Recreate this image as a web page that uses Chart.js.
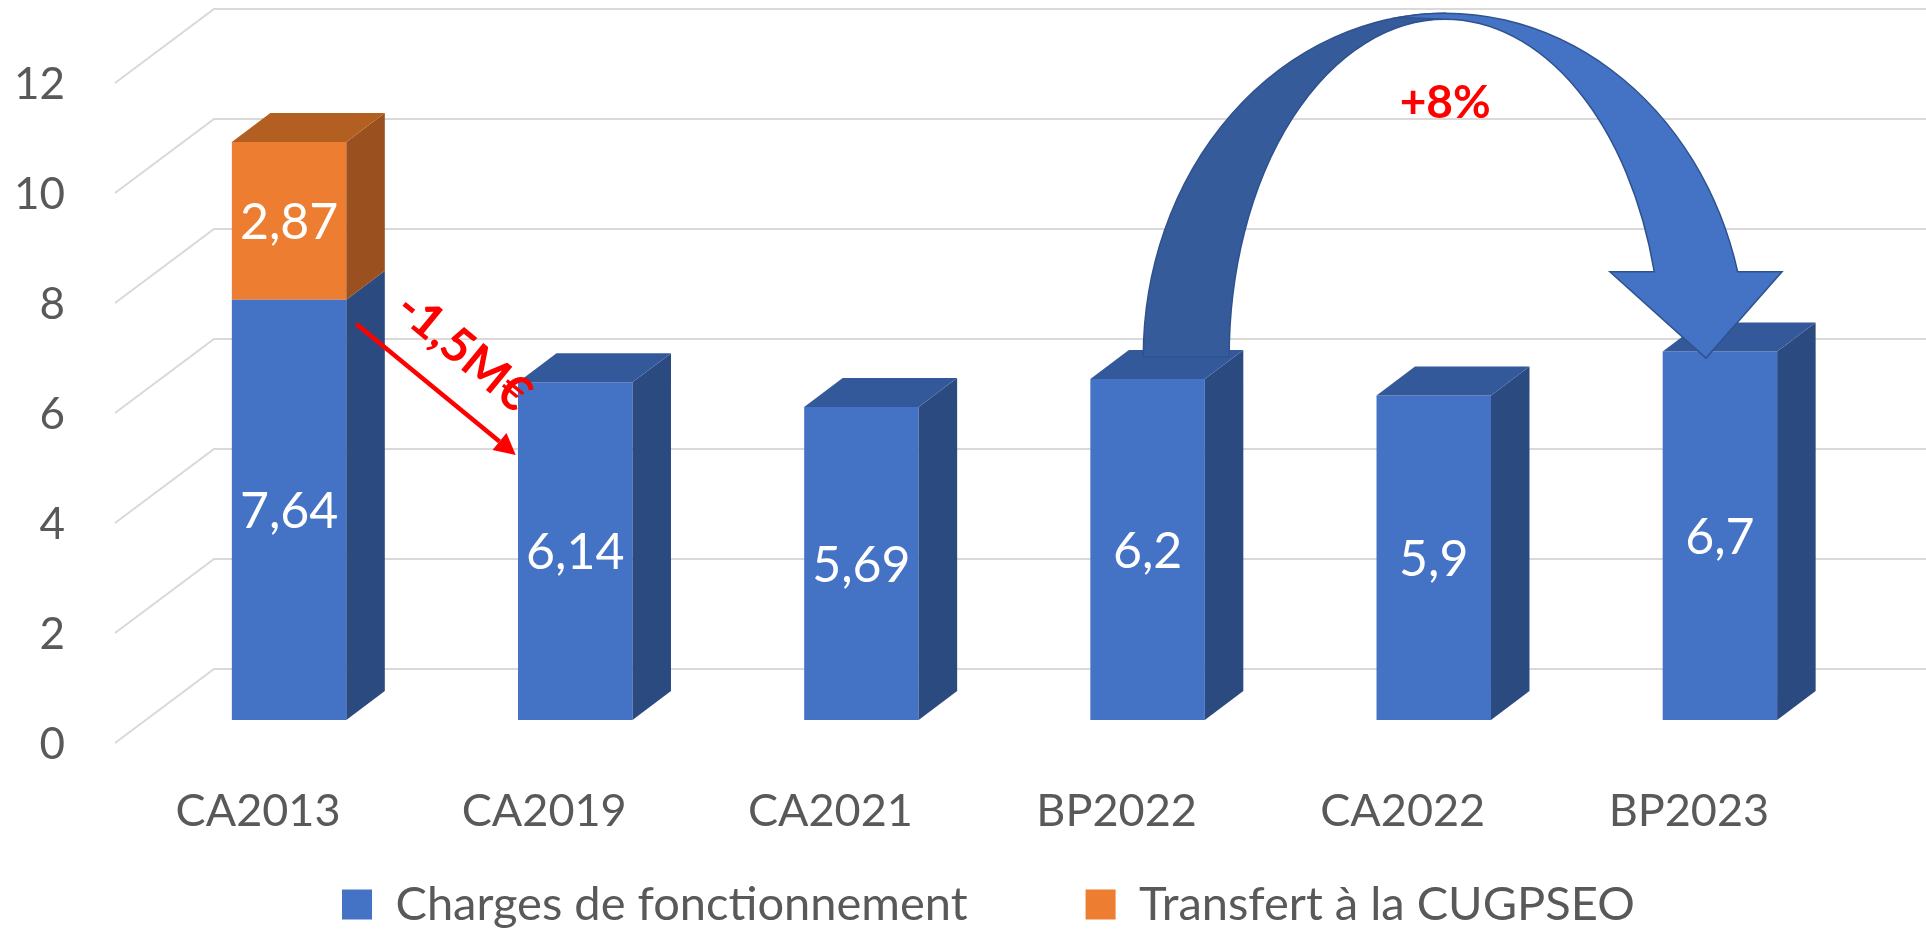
<!DOCTYPE html>
<html><head><meta charset="utf-8">
<script src="https://cdn.jsdelivr.net/npm/chart.js@4/dist/chart.umd.min.js"></script>
<style>html,body{margin:0;padding:0;background:#fff;}canvas{display:block;}</style>
</head><body>
<canvas id="c" width="1926" height="929"></canvas>
<script>
// ---- data ----
const categories = ['CA2013', 'CA2019', 'CA2021', 'BP2022', 'CA2022', 'BP2023'];
const charges = [7.64, 6.14, 5.69, 6.2, 5.9, 6.7];
const transfert = [2.87, null, null, null, null, null];
const yTicks = [0, 2, 4, 6, 8, 10, 12];
const seriesNames = ['Charges de fonctionnement', 'Transfert à la CUGPSEO'];
const dropLabel = '-1,5M€';
const growthLabel = '+8%';

// ---- layout / style constants ----
const FONT = 'Lato, "Open Sans", sans-serif';
const TXT = '#595959';
const PLOT_BOTTOM = 720;
const FRONT = {dx: -31, dy: 23};   // front edge of floor relative to bar plane
const BACK = {dx: 68, dy: -51};    // back wall relative to bar plane
const BAR_DEPTH = {dx: 38.5, dy: -29};
const LEG_BOX_LEFT = 342, LEG_ROW_Y = 881, LEG_HEIGHT = 84;

function fmt(v) { return String(v).replace('.', ','); }

const threeD = {
  id: 'threeD',
  beforeDatasetsDraw(chart) {
    const {ctx, chartArea: a, scales: {y}} = chart;
    ctx.save();
    ctx.strokeStyle = '#D9D9D9';
    ctx.lineWidth = 2;
    yTicks.forEach(v => {
      const py = y.getPixelForValue(v);
      ctx.beginPath();
      ctx.moveTo(a.left + FRONT.dx, py + FRONT.dy);
      ctx.lineTo(a.left + BACK.dx, py + BACK.dy);
      ctx.lineTo(chart.width + 5, py + BACK.dy);
      ctx.stroke();
    });
    ctx.restore();
  },
  afterDatasetsDraw(chart) {
    const {ctx} = chart;
    const n = chart.data.labels.length;
    ctx.save();
    for (let i = 0; i < n; i++) {
      let topMost = null;
      chart.data.datasets.forEach((ds, di) => {
        if (ds.data[i] == null) return;
        const el = chart.getDatasetMeta(di).data[i];
        const p = el.getProps(['x', 'y', 'base', 'width'], true);
        const l = p.x - p.width / 2, r = p.x + p.width / 2;
        const top = Math.min(p.y, p.base), bot = Math.max(p.y, p.base);
        ctx.fillStyle = ds.sideColor;
        ctx.beginPath();
        ctx.moveTo(r, bot);
        ctx.lineTo(r + BAR_DEPTH.dx, bot + BAR_DEPTH.dy);
        ctx.lineTo(r + BAR_DEPTH.dx, top + BAR_DEPTH.dy);
        ctx.lineTo(r, top);
        ctx.closePath();
        ctx.fill();
        topMost = {l, r, top, color: ds.topColor};
      });
      if (topMost) {
        const t = topMost;
        ctx.fillStyle = t.color;
        ctx.beginPath();
        ctx.moveTo(t.l, t.top);
        ctx.lineTo(t.l + BAR_DEPTH.dx, t.top + BAR_DEPTH.dy);
        ctx.lineTo(t.r + BAR_DEPTH.dx, t.top + BAR_DEPTH.dy);
        ctx.lineTo(t.r, t.top);
        ctx.closePath();
        ctx.fill();
      }
    }
    // value labels
    ctx.fillStyle = '#FFFFFF';
    ctx.font = '50px ' + FONT;
    ctx.textAlign = 'center';
    ctx.textBaseline = 'middle';
    chart.data.datasets.forEach((ds, di) => {
      chart.getDatasetMeta(di).data.forEach((el, i) => {
        if (ds.data[i] == null) return;
        const p = el.getProps(['x', 'y', 'base'], true);
        ctx.fillText(fmt(ds.data[i]), p.x, (p.y + p.base) / 2 + 2);
      });
    });
    ctx.restore();
  },
  afterDraw(chart) {
    const {ctx, scales: {x, y}} = chart;
    const pitch = x.getPixelForValue(1) - x.getPixelForValue(0);
    const px = idx => x.getPixelForValue(0) + idx * pitch;
    ctx.save();
    // ---- red drop arrow ----
    const sx = px(0.235), sy = y.getPixelForValue(7.2);
    const ex = px(0.792), ey = y.getPixelForValue(4.82);
    const ang = Math.atan2(ey - sy, ex - sx);
    const hl = 21, hw = 11;
    ctx.strokeStyle = '#FF0000';
    ctx.fillStyle = '#FF0000';
    ctx.lineWidth = 4.5;
    ctx.beginPath();
    ctx.moveTo(sx, sy);
    ctx.lineTo(ex - hl * Math.cos(ang), ey - hl * Math.sin(ang));
    ctx.stroke();
    ctx.beginPath();
    ctx.moveTo(ex, ey);
    ctx.lineTo(ex - hl * Math.cos(ang) + hw * Math.sin(ang), ey - hl * Math.sin(ang) - hw * Math.cos(ang));
    ctx.lineTo(ex - hl * Math.cos(ang) - hw * Math.sin(ang), ey - hl * Math.sin(ang) + hw * Math.cos(ang));
    ctx.closePath();
    ctx.fill();
    ctx.save();
    ctx.translate(px(0.61), y.getPixelForValue(6.7));
    ctx.rotate(ang);
    ctx.font = 'bold 48px ' + FONT;
    ctx.textAlign = 'center';
    ctx.textBaseline = 'middle';
    ctx.fillText(dropLabel, 0, 0);
    ctx.restore();

    // ---- curved growth arrow (BP2022 -> BP2023) ----
    const cx = px(3 + 1.04);
    const cy = y.getPixelForValue(6.6);
    const aO = 1.055 * pitch, aI = 0.755 * pitch;
    const bO = cy - y.getPixelForValue(12.85), bI = cy - y.getPixelForValue(12.74);
    const yBase = y.getPixelForValue(8.15);
    const yTip = y.getPixelForValue(6.58);
    const tO = Math.asin((cy - yBase) / bO), tI = Math.asin((cy - yBase) / bI);
    const outerX = cx + aO * Math.cos(tO), innerX = cx + aI * Math.cos(tI);
    const over = 0.155 * pitch;
    ctx.lineWidth = 1.5;
    ctx.strokeStyle = '#2F528F';
    // back (left) half
    ctx.fillStyle = '#355B9A';
    ctx.beginPath();
    ctx.ellipse(cx, cy, aO, bO, 0, Math.PI, 1.5 * Math.PI, false);
    ctx.ellipse(cx, cy, aI, bI, 0, 1.5 * Math.PI, Math.PI, true);
    ctx.closePath();
    ctx.fill(); ctx.stroke();
    // front (right) half with head
    ctx.fillStyle = '#4472C4';
    ctx.beginPath();
    ctx.ellipse(cx, cy, aO, bO, 0, 1.45 * Math.PI, 2 * Math.PI - tO, false);
    ctx.lineTo(outerX + over, yBase);
    ctx.lineTo((outerX + innerX) / 2 + 0.035 * pitch, yTip);
    ctx.lineTo(innerX - over, yBase);
    ctx.lineTo(innerX, yBase);
    ctx.ellipse(cx, cy, aI, bI, 0, 2 * Math.PI - tI, 1.5 * Math.PI, true);
    ctx.closePath();
    ctx.fill(); ctx.stroke();
    // label
    ctx.fillStyle = '#FF0000';
    ctx.font = 'bold 46px ' + FONT;
    ctx.textAlign = 'center';
    ctx.textBaseline = 'middle';
    ctx.fillText(growthLabel, cx, y.getPixelForValue(11.22));
    ctx.restore();
  }
};

const legendPlace = {
  id: 'legendPlace',
  afterLayout(chart) {
    const lg = chart.legend;
    if (!lg || !lg.lineWidths) return;
    const p = lg.options.labels.padding;
    const cur = (lg.left + p + lg.right - lg.lineWidths[0]) / 2;
    const dx = LEG_BOX_LEFT - cur;
    lg.left += dx; lg.right += dx;
    lg.top = LEG_ROW_Y - p;
    lg.bottom = chart.height;
    lg.height = lg.bottom - lg.top;
  }
};

new Chart(document.getElementById('c'), {
  type: 'bar',
  data: {
    labels: categories,
    datasets: [
      {label: seriesNames[0], data: charges, backgroundColor: '#4472C4', sideColor: '#2B4A80', topColor: '#34599A',
       categoryPercentage: 1, barPercentage: 0.4},
      {label: seriesNames[1], data: transfert, backgroundColor: '#ED7D31', sideColor: '#9A501F', topColor: '#B45F22',
       categoryPercentage: 1, barPercentage: 0.4}
    ]
  },
  options: {
    responsive: false,
    animation: false,
    devicePixelRatio: 1,
    layout: {padding: {top: 60, right: 63, left: 0, bottom: 0}},
    scales: {
      x: {
        stacked: true, offset: true,
        grid: {display: false, drawTicks: false}, border: {display: false},
        ticks: {font: {family: FONT, size: 45}, color: TXT, padding: 64, labelOffset: -31, maxRotation: 0, autoSkip: false},
        afterFit: s => {
          const lh = s.chart.legend ? s.chart.legend.height : 0;
          s.height = s.chart.height - lh - PLOT_BOTTOM;
          s.paddingLeft = 0; s.paddingRight = 0;
        }
      },
      y: {
        stacked: true, min: 0, max: 12,
        grid: {display: false, drawTicks: false}, border: {display: false},
        ticks: {stepSize: 2, font: {family: FONT, size: 44}, color: TXT, padding: 81, labelOffset: 25},
        afterFit: s => { s.width = 146; s.paddingTop = 0; s.paddingBottom = 0; }
      }
    },
    plugins: {
      legend: {position: 'bottom', maxHeight: LEG_HEIGHT,
        labels: {boxWidth: 30, boxHeight: 30, padding: 118, color: TXT, font: {family: FONT, size: 47}}},
      tooltip: {enabled: false}
    }
  },
  plugins: [threeD, legendPlace]
});
</script>
</body></html>
